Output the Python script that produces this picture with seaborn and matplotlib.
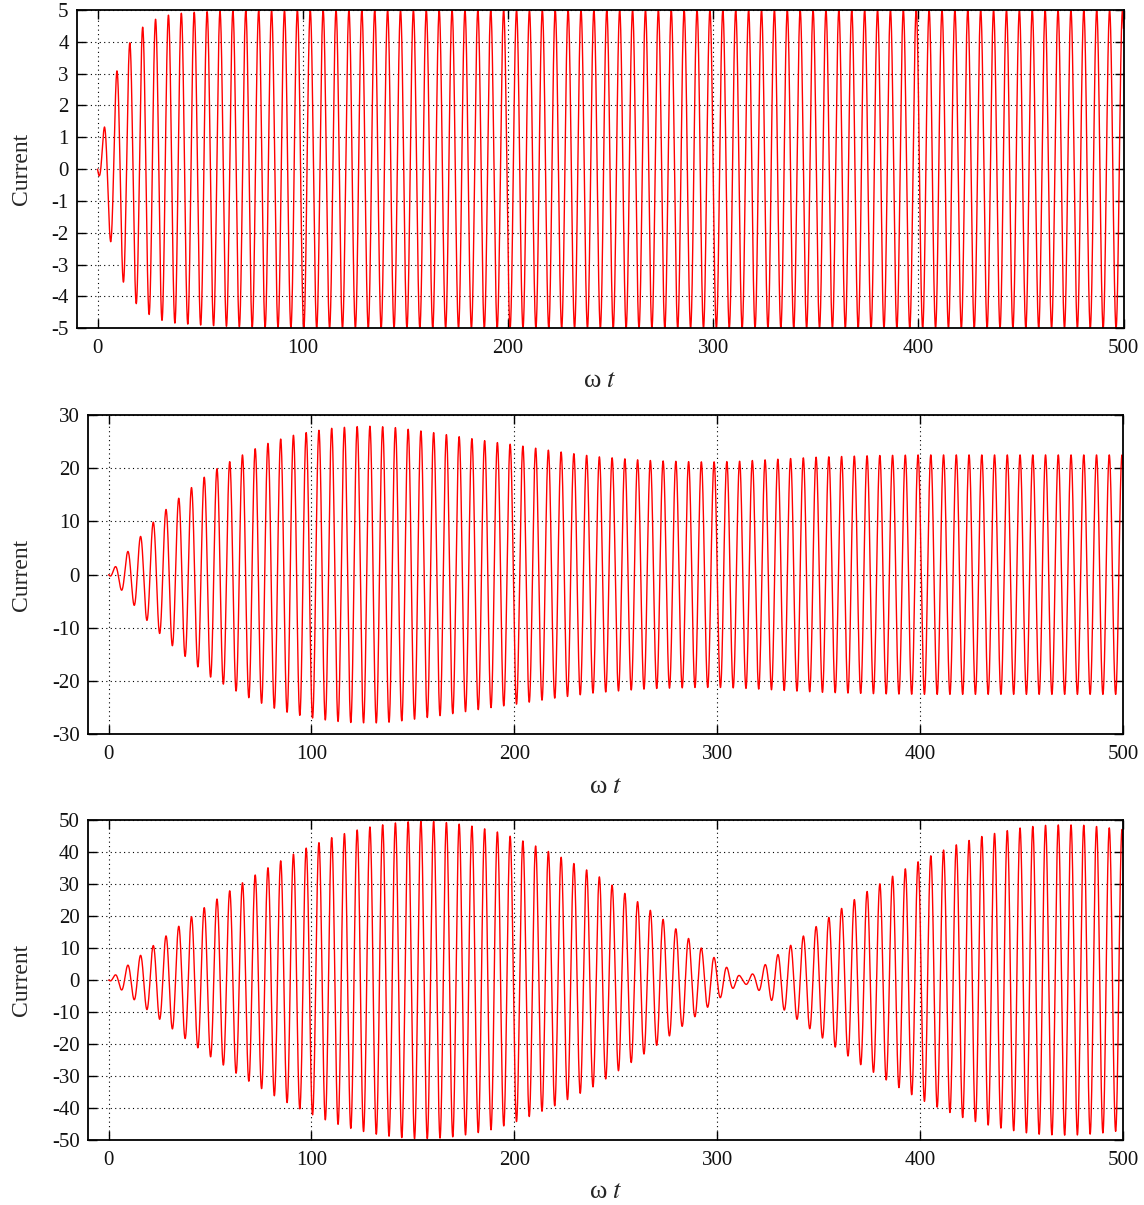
import numpy as np
import pandas as pd
import matplotlib
matplotlib.use("Agg")
import matplotlib.pyplot as plt
import seaborn as sns

# ---- data: envelope knots of each oscillation (carrier period 2*pi in omega*t)
# Panel 1: upper (hi) and lower (lo) peak magnitudes
p1_hi_t = [0, 3.4, 9.4, 15.8, 22.0, 28.3, 34.6, 40.9, 47.3, 53.6, 70, 100, 500]
p1_hi_v = [0, 1.37, 3.08, 3.98, 4.46, 4.71, 4.84, 4.90, 4.93, 4.95, 4.98, 5.0, 5.0]
p1_lo_t = [0, 0.8, 6.5, 12.8, 19.1, 25.4, 31.7, 38.0, 44.2, 50.5, 70, 100, 500]
p1_lo_v = [0, 0.30, 2.33, 3.59, 4.25, 4.58, 4.76, 4.84, 4.87, 4.90, 4.96, 5.0, 5.0]

# Panel 2: damped near-resonance
p2_t = [0, 10, 20, 30, 40, 50, 60, 70, 80, 90, 100, 110, 120, 130, 140, 150, 160,
        170, 180, 190, 200, 210, 220, 230, 240, 250, 260, 270, 280, 290, 300, 310,
        320, 330, 340, 350, 360, 370, 380, 390, 400, 450, 500]
p2_v = [0, 4.6, 9.1, 12.9, 16.1, 19.2, 21.3, 23.3, 24.9, 26.1, 26.9, 27.5, 27.8,
        27.9, 27.7, 27.2, 26.7, 26.1, 25.5, 24.9, 24.4, 23.8, 23.2, 22.7, 22.2,
        21.9, 21.6, 21.4, 21.3, 21.2, 21.2, 21.3, 21.5, 21.7, 21.9, 22.1, 22.2,
        22.3, 22.4, 22.45, 22.5, 22.5, 22.5]

# Panel 3: undamped beats
p3_t = [0, 10, 20, 30, 40, 50, 60, 70, 80, 90, 100, 110, 120, 130, 140, 150, 160,
        170, 180, 190, 200, 210, 220, 230, 240, 250, 260, 270, 280, 290, 300, 306,
        312, 318, 324, 330, 340, 350, 360, 370, 380, 390, 400, 410, 420, 430, 440,
        450, 460, 470, 480, 490, 500]
p3_v = [0, 4.9, 9.8, 14.6, 19.4, 23.9, 28.0, 32.0, 35.6, 39.0, 42.0, 44.5, 46.5,
        48.0, 49.0, 49.6, 49.6, 49.0, 48.0, 46.6, 44.5, 42.0, 39.3, 36.2, 33.0,
        28.9, 24.8, 20.5, 15.8, 11.0, 6.3, 3.3, 1.0, 2.0, 5.0, 8.0, 12.6, 17.3,
        21.8, 26.2, 30.0, 33.8, 37.3, 40.2, 42.8, 44.8, 46.3, 47.6, 48.3, 48.5,
        48.4, 47.8, 47.0]

x_ticks = [0, 100, 200, 300, 400, 500]
y_ticks = [list(range(-5, 6, 1)), list(range(-30, 31, 10)), list(range(-50, 51, 10))]
y_lims = [(-5, 5), (-30, 30), (-50, 50)]


def build(hi_t, hi_v, lo_t, lo_v):
    t = np.arange(0, 500.0001, 0.02)
    c = -np.cos(t)
    hi = np.interp(t, hi_t, hi_v)
    lo = np.interp(t, lo_t, lo_v)
    y = np.where(c >= 0, c * hi, c * lo)
    return pd.DataFrame({"t": t, "current": y})


frames = [build(p1_hi_t, p1_hi_v, p1_lo_t, p1_lo_v),
          build(p2_t, p2_v, p2_t, p2_v),
          build(p3_t, p3_v, p3_t, p3_v)]

sns.set_theme(style="white")
plt.rcParams["font.family"] = ["Liberation Serif", "DejaVu Serif"]
plt.rcParams["mathtext.fontset"] = "stix"
plt.rcParams["axes.unicode_minus"] = False

fig = plt.figure(figsize=(11.44, 12.05), dpi=100)
W, H = 1144, 1205
boxes = [(77, 10, 1123.5, 328.3), (88.3, 415, 1123, 734.3), (88.3, 820, 1123, 1140)]

for i, (df, box) in enumerate(zip(frames, boxes)):
    l, tp, r, b = box
    ax = fig.add_axes([l / W, 1 - b / H, (r - l) / W, (b - tp) / H])
    sns.lineplot(data=df, x="t", y="current", ax=ax, color="#ff0000", lw=1.0,
                 estimator=None, sort=False)
    ax.set_xlim(-10, 500)
    ax.set_ylim(*y_lims[i])
    ax.set_xticks(x_ticks)
    ax.set_yticks(y_ticks[i])
    ax.set_xticklabels([str(v) for v in x_ticks])
    ax.set_yticklabels([str(v) for v in y_ticks[i]])
    ax.grid(True, color="black", linestyle=(0, (1, 3)), linewidth=0.8)
    ax.set_axisbelow(True)
    for s in ax.spines.values():
        s.set_visible(True)
        s.set_color("black")
        s.set_linewidth(1.3)
    ax.tick_params(axis="both", which="major", direction="in", length=6.5, width=1.0,
                   color="black", top=True, right=True, bottom=True, left=True,
                   labelsize=15, labelcolor="#111111")
    ax.tick_params(axis="x", pad=8)
    ax.tick_params(axis="y", pad=6)
    ax.set_xlabel(r"ω $t$", fontsize=19, labelpad=8)
    ax.set_ylabel("Current", fontsize=17)
    ax.yaxis.set_label_coords(-(l - 32) / (r - l), 0.5)

fig.savefig("out.png", dpi=100)
